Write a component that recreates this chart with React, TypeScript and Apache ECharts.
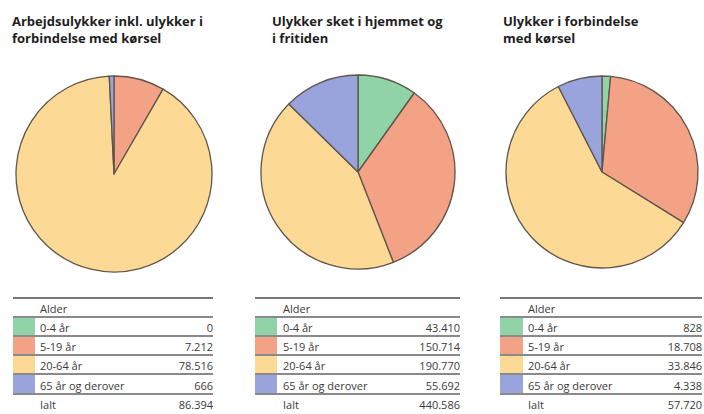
import React, { useEffect, useRef } from "react";
import * as echarts from "echarts";

const categories = ["0-4 år", "5-19 år", "20-64 år", "65 år og derover"];
const workValues = [0, 7212, 78516, 666];
const homeValues = [43410, 150714, 190770, 55692];
const trafficValues = [828, 18708, 33846, 4338];
const totals = [86394, 440586, 57720];
const titles = [
  "Arbejdsulykker inkl. ulykker i\nforbindelse med kørsel",
  "Ulykker sket i hjemmet og\ni fritiden",
  "Ulykker i forbindelse\nmed kørsel",
];
const headerLabel = "Alder";
const totalLabel = "Ialt";
const colors = ["#8fd3a6", "#f4a285", "#fdd996", "#99a3dc"];

const panels = [
  { values: workValues, cx: 114, cy: 174, r: 98, left: 13, right: 213, sw: 22, tx: 40, titleX: 12 },
  { values: homeValues, cx: 358, cy: 172, r: 97, left: 255, right: 460, sw: 22, tx: 283, titleX: 272 },
  { values: trafficValues, cx: 602, cy: 172, r: 96, left: 500, right: 702, sw: 23, tx: 528, titleX: 503 },
];

const fmt = (n: number) => String(n).replace(/\B(?=(\d{3})+(?!\d))/g, ".");

export default function App() {
  const ref = useRef<HTMLDivElement>(null);
  useEffect(() => {
    if (!ref.current) return;
    const chart = echarts.init(ref.current, null, { renderer: "svg" });
    const lineYs = [298, 317, 336, 355, 374, 394];
    const graphics: any[] = [];
    const font = "'Open Sans', 'Noto Sans', sans-serif";
    panels.forEach((p, pi) => {
      graphics.push({
        type: "text",
        left: p.titleX,
        top: 12,
        style: {
          text: titles[pi],
          font: `bold 13px ${font}`,
          fill: "#1e1e1e",
          lineHeight: 17,
        },
      });
      categories.forEach((_, ci) => {
        graphics.push({
          type: "rect",
          shape: { x: p.left, y: lineYs[ci + 1], width: p.sw, height: lineYs[ci + 2] - lineYs[ci + 1] },
          style: { fill: colors[ci] },
        });
      });
      lineYs.forEach((y, li) => {
        graphics.push({
          type: "line",
          shape: { x1: p.left, y1: y, x2: p.right, y2: y },
          style: { stroke: li === 0 ? "#777" : "#8a8a8a", lineWidth: 1.8 },
        });
      });
      const rows = [headerLabel, ...categories, totalLabel];
      const nums = ["", ...p.values.map(fmt), fmt(totals[pi])];
      rows.forEach((label, ri) => {
        const y0 = lineYs[ri];
        const y1 = ri + 1 < lineYs.length ? lineYs[ri + 1] : 413;
        const cy = (y0 + y1) / 2 + 1;
        graphics.push({
          type: "text",
          x: p.tx,
          y: cy,
          style: {
            text: label,
            font: `11px ${font}`,
            fill: "#3a3a3a",
            verticalAlign: "middle",
            align: "left",
          },
        });
        if (nums[ri]) {
          graphics.push({
            type: "text",
            x: p.right,
            y: cy,
            style: {
              text: nums[ri],
              font: `11px ${font}`,
              fill: "#3a3a3a",
              verticalAlign: "middle",
              align: "right",
            },
          });
        }
      });
    });

    chart.setOption({
      animation: false,
      backgroundColor: "#fff",
      color: colors,
      graphic: graphics,
      series: panels.map((p) => ({
        type: "pie",
        center: [p.cx, p.cy],
        radius: p.r,
        startAngle: 90,
        clockwise: true,
        label: { show: false },
        labelLine: { show: false },
        emphasis: { disabled: true },
        itemStyle: { borderColor: "#5f554c", borderWidth: 1.3 },
        data: p.values.map((v, i) => ({ name: categories[i], value: v })),
      })),
    });
    return () => chart.dispose();
  }, []);
  return (
    <div
      ref={ref}
      style={{ position: "fixed", left: 0, top: 0, width: 704, height: 414 }}
    />
  );
}
